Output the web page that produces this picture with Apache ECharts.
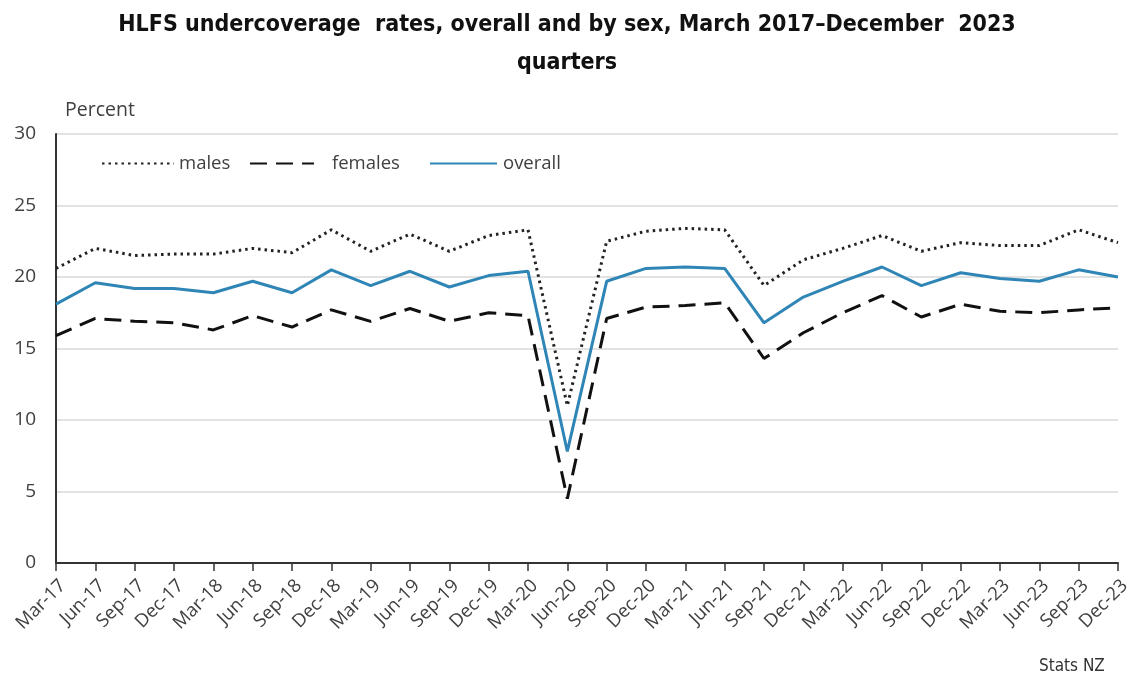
<!DOCTYPE html>
<html>
<head>
<meta charset="utf-8">
<title>HLFS undercoverage rates</title>
<script src="https://cdn.jsdelivr.net/npm/echarts@6/dist/echarts.min.js"></script>
<style>
  html, body { margin: 0; padding: 0; background: #ffffff; }
  #chart { width: 1134px; height: 682px; }
</style>
</head>
<body>
<div id="chart"></div>
<script>
// Quarter labels, March 2017 to December 2023
const quarters = [
  'Mar-17','Jun-17','Sep-17','Dec-17','Mar-18','Jun-18','Sep-18','Dec-18',
  'Mar-19','Jun-19','Sep-19','Dec-19','Mar-20','Jun-20','Sep-20','Dec-20',
  'Mar-21','Jun-21','Sep-21','Dec-21','Mar-22','Jun-22','Sep-22','Dec-22',
  'Mar-23','Jun-23','Sep-23','Dec-23'
];

// Undercoverage rates (percent)
const males = [
  20.6, 22.0, 21.5, 21.6, 21.6, 22.0, 21.7, 23.3,
  21.8, 23.0, 21.8, 22.9, 23.3, 11.0, 22.5, 23.2,
  23.4, 23.3, 19.4, 21.2, 22.0, 22.9, 21.8, 22.4,
  22.2, 22.2, 23.3, 22.4
];
const females = [
  15.9, 17.1, 16.9, 16.8, 16.3, 17.3, 16.5, 17.7,
  16.9, 17.8, 16.9, 17.5, 17.3, 4.5, 17.1, 17.9,
  18.0, 18.2, 14.3, 16.1, 17.5, 18.7, 17.2, 18.1,
  17.6, 17.5, 17.7, 17.85
];
const overall = [
  18.1, 19.6, 19.2, 19.2, 18.9, 19.7, 18.9, 20.5,
  19.4, 20.4, 19.3, 20.1, 20.4, 7.8, 19.7, 20.6,
  20.7, 20.6, 16.8, 18.6, 19.7, 20.7, 19.4, 20.3,
  19.9, 19.7, 20.5, 20.0
];

const yTicks = { min: 0, max: 30, interval: 5 };

const labelColor = '#404040';
const labelFont = '"Open Sans", "Liberation Sans", Arial, sans-serif';
const titleFont = '"DejaVu Sans Condensed", "DejaVu Sans", sans-serif';
const blue = '#2f86b6';

const chart = echarts.init(document.getElementById('chart'), null, { renderer: 'canvas' });

// one legend entry per component so each can sit at its own spot
function legendAt(left, name, width, textGap) {
  return {
    data: [name],
    left: left,
    top: 149,
    itemWidth: width,
    itemHeight: 20,
    itemGap: 0,
    itemStyle: { opacity: 0 },
    textStyle: {
      fontFamily: labelFont,
      fontSize: 18.5,
      color: labelColor,
      padding: [0, 0, 0, textGap]
    }
  };
}

chart.setOption({
  animation: false,
  backgroundColor: '#ffffff',
  title: [
    {
      text: 'HLFS undercoverage  rates, overall and by sex, March 2017\u2013December  2023\nquarters',
      left: 'center',
      top: 1,
      textStyle: {
        fontFamily: titleFont,
        fontWeight: 'bold',
        fontSize: 23,
        lineHeight: 38,
        color: '#111111'
      }
    },
    {
      text: 'Stats NZ',
      left: 1034,
      top: 653,
      textStyle: {
        fontFamily: titleFont,
        fontWeight: 'normal',
        fontSize: 17,
        color: '#333333'
      }
    }
  ],
  legend: [
    legendAt(96, 'males', 72, 0),
    legendAt(244, 'females', 64, 13),
    legendAt(424, 'overall', 67, 1)
  ],
  grid: { left: 56, right: 16, top: 134, bottom: 119 },
  xAxis: {
    type: 'category',
    data: quarters,
    boundaryGap: false,
    axisLine: { lineStyle: { color: '#333333', width: 2 } },
    axisTick: { alignWithLabel: true, length: 8, lineStyle: { color: '#333333', width: 1.5 } },
    axisLabel: {
      interval: 0,
      rotate: 45,
      margin: 13,
      verticalAlign: 'top',
      fontFamily: labelFont,
      fontSize: 18.5,
      color: labelColor
    },
    splitLine: { show: false }
  },
  yAxis: {
    type: 'value',
    min: yTicks.min,
    max: yTicks.max,
    interval: yTicks.interval,
    name: 'Percent',
    nameLocation: 'end',
    nameGap: 14,
    nameTextStyle: {
      fontFamily: labelFont,
      fontSize: 19.5,
      color: labelColor,
      align: 'left',
      padding: [0, 0, 0, 9]
    },
    axisLine: { show: true, lineStyle: { color: '#333333', width: 2 } },
    axisTick: { show: false },
    axisLabel: {
      margin: 20,
      fontFamily: labelFont,
      fontSize: 19,
      color: labelColor
    },
    splitLine: { lineStyle: { color: '#d9d9d9', width: 1.5 } }
  },
  series: [
    {
      name: 'males',
      type: 'line',
      data: males,
      symbol: 'none',
      lineStyle: { color: '#222222', width: 3, type: [2.5, 4], cap: 'butt' },
      itemStyle: { color: '#222222' },
      z: 2
    },
    {
      name: 'females',
      type: 'line',
      data: females,
      symbol: 'none',
      lineStyle: { color: '#111111', width: 3, type: [17, 9] },
      itemStyle: { color: '#111111' },
      z: 2
    },
    {
      name: 'overall',
      type: 'line',
      data: overall,
      symbol: 'none',
      lineStyle: { color: blue, width: 3 },
      itemStyle: { color: blue },
      z: 3
    }
  ]
});
</script>
</body>
</html>
